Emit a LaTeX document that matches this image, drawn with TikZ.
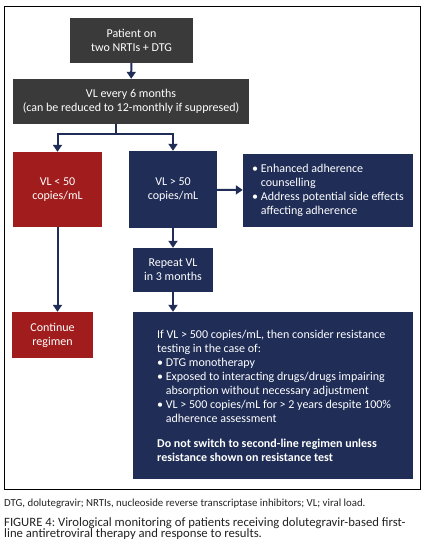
\documentclass[tikz,border=0pt]{standalone}
\usepackage{fontspec}
\setmainfont{Carlito}
\usetikzlibrary{arrows.meta}
\definecolor{navy}{HTML}{1F2D57}
\definecolor{darkred}{HTML}{A11D1D}
\definecolor{boxgray}{HTML}{3A3A3A}
\definecolor{captext}{HTML}{222222}
\begin{document}
\frenchspacing
\begin{tikzpicture}[x=1pt,y=-1pt,
  box/.style={rectangle, inner sep=0pt, text=white, align=center,
     font=\fontsize{12}{14}\selectfont},
  graybox/.style={box, fill=boxgray},
  navybox/.style={box, fill=navy},
  redbox/.style={box, fill=darkred},
  boxtext/.style={inner sep=0pt, text=white, align=left, anchor=west,
     font=\fontsize{12}{14}\selectfont},
  captxt/.style={anchor=base west, inner sep=0pt, text=captext},
  conn/.style={draw=navy, line width=2pt},
  arr/.style={conn, -{Triangle[width=9pt,length=7pt]}}]
\useasboundingbox (0,0) rectangle (425,547);
\draw[black, line width=1pt] (4,6) rectangle (420,489);

\node[graybox, minimum width=123pt, minimum height=45pt] (a) at (131.5,40.5) {Patient on\\two NRTIs + DTG};
\node[graybox, minimum width=236pt, minimum height=45pt] (b) at (131,101.5) {VL every 6 months\\(can be reduced to 12-monthly if suppresed)};
\node[redbox, minimum width=89pt, minimum height=75pt] (lo) at (57.5,189.5) {VL < 50\\copies/mL};
\node[navybox, minimum width=88pt, minimum height=77pt] (hi) at (173,189.5) {VL > 50\\copies/mL};
\node[navybox, minimum width=170pt, minimum height=73pt] (adv) at (328,190.5) {};
\node[boxtext] (advtext) at (252,190)
  {\textbullet\ Enhanced adherence\\\phantom{\textbullet\ }counselling\\\textbullet\ Address potential side effects\\\phantom{\textbullet\ }affecting adherence};
\node[navybox, minimum width=80pt, minimum height=44pt] (rep) at (173,270) {Repeat VL\\in 3 months};
\node[redbox, minimum width=81pt, minimum height=46pt] (cont) at (52.5,335) {Continue\\regimen};
\node[navybox, minimum width=280pt, minimum height=167pt] (big) at (273,395.5) {};
\node[boxtext] (bigtext) at (157,395.5)
  {If VL > 500 copies/mL, then consider resistance\\
   testing in the case of:\\
   \textbullet\ DTG monotherapy\\
   \textbullet\ Exposed to interacting drugs/drugs impairing\\
   \phantom{\textbullet\ }absorption without necessary adjustment\\
   \textbullet\ VL > 500 copies/mL for > 2 years despite 100\%\\
   \phantom{\textbullet\ }adherence assessment\\[11pt]
   \textbf{Do not switch to second-line regimen unless}\\
   \textbf{resistance shown on resistance test}};

\coordinate (j) at (116,134);
\draw[arr] (a) -- (b);
\draw[conn] (b.south -| j) -- (j);
\draw[arr] (j) -| (lo.north);
\draw[arr] (j) -| (hi.north);
\draw[arr] (hi) -- (adv);
\draw[arr] (hi) -- (rep);
\draw[arr] (rep) -- (rep |- big.north);
\draw[arr] (lo) -- (lo |- cont.north);

\node[captxt, font=\fontsize{10.8}{12}\selectfont] (cap1) at (4,506)
  {DTG, dolutegravir; NRTIs, nucleoside reverse transcriptase inhibitors; VL; viral load.};
\node[captxt, font=\fontsize{12.7}{12}\selectfont] (cap2) at (4,526)
  {FIGURE 4: Virological monitoring of patients receiving dolutegravir-based first-};
\node[captxt, font=\fontsize{12.7}{12}\selectfont] (cap3) at (4,537.5)
  {line antiretroviral therapy and response to results.};
\end{tikzpicture}
\end{document}
